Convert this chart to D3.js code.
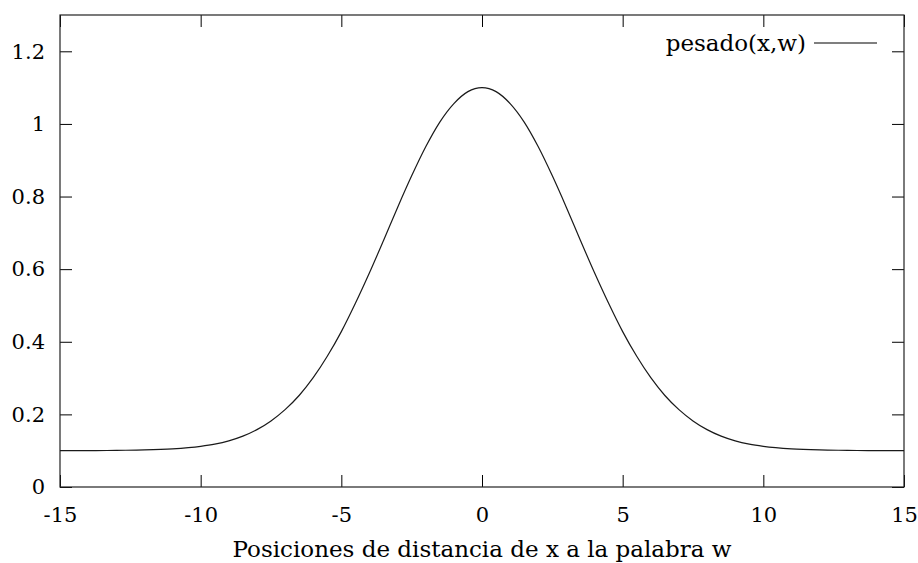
<!DOCTYPE html>
<html>
<head>
<meta charset="utf-8">
<script src="https://cdn.jsdelivr.net/npm/d3@7/dist/d3.min.js"></script>
<style>
  html, body { margin: 0; padding: 0; background: #fff; }
  svg { display: block; font-family: "DejaVu Serif", "Liberation Serif", serif; }
</style>
</head>
<body>
<svg id="chart" width="918" height="563"></svg>
<script>
// Weighting curve: distance position vs. weight
const positions = [-15, -14, -13, -12, -11, -10, -9.5, -9, -8.5, -8, -7.5, -7, -6.5, -6, -5.5, -5, -4.5, -4, -3.5, -3, -2.5, -2, -1.5, -1, -0.5, 0,
                   0.5, 1, 1.5, 2, 2.5, 3, 3.5, 4, 4.5, 5, 5.5, 6, 6.5, 7, 7.5, 8, 8.5, 9, 9.5, 10, 11, 12, 13, 14, 15];
const weights = [0.100, 0.100, 0.101, 0.102, 0.105, 0.112, 0.118, 0.127, 0.140, 0.158, 0.182, 0.213, 0.252, 0.301, 0.360, 0.428, 0.506, 0.590, 0.679, 0.770, 0.857, 0.937, 1.005, 1.056, 1.089, 1.100,
                 1.089, 1.056, 1.005, 0.937, 0.857, 0.770, 0.679, 0.590, 0.506, 0.428, 0.360, 0.301, 0.252, 0.213, 0.182, 0.158, 0.140, 0.127, 0.118, 0.112, 0.105, 0.102, 0.101, 0.100, 0.100];
const xTicks = [-15, -10, -5, 0, 5, 10, 15];
const yTicks = [0, 0.2, 0.4, 0.6, 0.8, 1, 1.2];
const seriesName = "pesado(x,w)";
const xTitle = "Posiciones de distancia de x a la palabra w";

const svg = d3.select("#chart");
const m = { left: 60, right: 904, top: 15, bottom: 487 };
const x = d3.scaleLinear().domain([-15, 15]).range([m.left, m.right]);
const y = d3.scaleLinear().domain([0, 1.3]).range([m.bottom, m.top]);
const tickLen = 12;
const tickFont = 21;
const labelFont = 23;
const fontFamily = "'DejaVu Serif', 'Liberation Serif', serif";

// Plain hyphen for negatives, shortest form for decimals
const fmt = d => String(+d.toFixed(1));

// Axes with inward ticks on all four sides
const axisStyle = g => {
  g.select(".domain").remove();
  g.selectAll(".tick line").attr("stroke", "#000").attr("stroke-width", 1);
  g.selectAll(".tick text").attr("fill", "#000").style("font-size", tickFont + "px")
    .style("font-family", fontFamily);
};

svg.append("g").attr("transform", `translate(0,${m.bottom})`)
  .call(d3.axisBottom(x).tickValues(xTicks).tickFormat(fmt).tickSizeInner(-tickLen).tickPadding(20))
  .call(axisStyle);
svg.append("g").attr("transform", `translate(0,${m.top})`)
  .call(d3.axisTop(x).tickValues(xTicks).tickFormat("").tickSizeInner(-tickLen))
  .call(axisStyle);
svg.append("g").attr("transform", `translate(${m.left},0)`)
  .call(d3.axisLeft(y).tickValues(yTicks).tickFormat(fmt).tickSizeInner(-tickLen).tickPadding(15))
  .call(axisStyle);
svg.append("g").attr("transform", `translate(${m.right},0)`)
  .call(d3.axisRight(y).tickValues(yTicks).tickFormat("").tickSizeInner(-tickLen))
  .call(axisStyle);

// Frame
svg.append("rect")
  .attr("x", m.left).attr("y", m.top)
  .attr("width", m.right - m.left).attr("height", m.bottom - m.top)
  .attr("fill", "none").attr("stroke", "#222").attr("stroke-width", 1.2);

// Curve
const line = d3.line().x((d, i) => x(positions[i])).y(d => y(d)).curve(d3.curveMonotoneX);
svg.append("path")
  .datum(weights)
  .attr("d", line)
  .attr("fill", "none")
  .attr("stroke", "#1a1a1a")
  .attr("stroke-width", 1.2);

// Legend
svg.append("text")
  .attr("x", 806).attr("y", 51)
  .attr("text-anchor", "end")
  .style("font-size", labelFont + "px")
  .text(seriesName);
svg.append("line")
  .attr("x1", 814).attr("x2", 877).attr("y1", 43).attr("y2", 43)
  .attr("stroke", "#000").attr("stroke-width", 1.2);

// X axis title
svg.append("text")
  .attr("x", (m.left + m.right) / 2).attr("y", 557)
  .attr("text-anchor", "middle")
  .style("font-size", labelFont + "px")
  .text(xTitle);
</script>
</body>
</html>
